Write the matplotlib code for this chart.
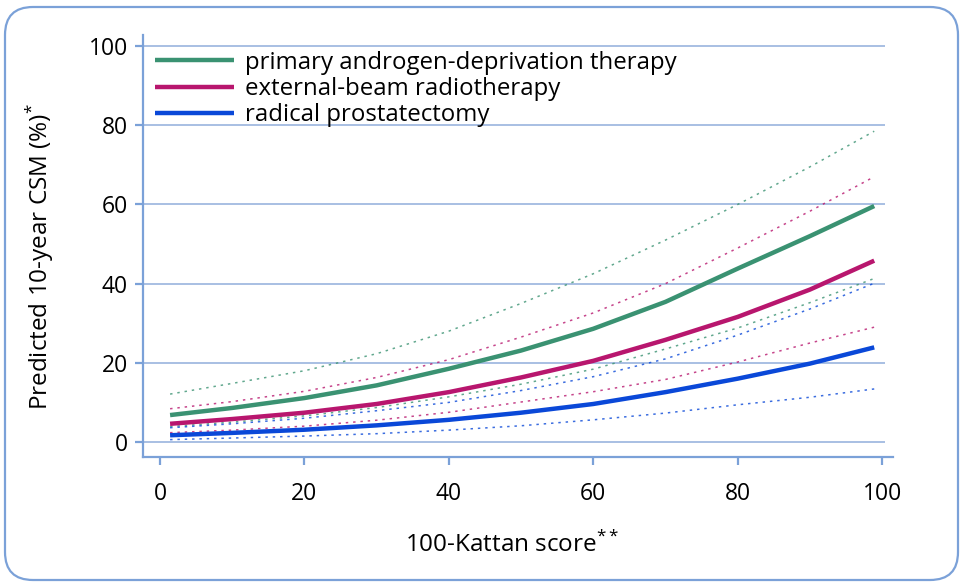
import matplotlib
matplotlib.use("Agg")
import matplotlib.pyplot as plt
from matplotlib.patches import FancyBboxPatch
from matplotlib.transforms import IdentityTransform

plt.rcParams['font.family'] = ['Open Sans', 'DejaVu Sans']
plt.rcParams['mathtext.fontset'] = 'custom'
plt.rcParams['mathtext.rm'] = 'Open Sans'

# 100-Kattan score (x) and predicted 10-year CSM (%)
kattan = [1.4, 10, 20, 30, 40, 50, 60, 70, 80, 90, 98.9]

adt = [6.8, 8.6, 11.1, 14.3, 18.5, 23.1, 28.6, 35.4, 43.8, 52.0, 59.6]
adt_hi = [12.1, 14.8, 18.0, 22.3, 28.0, 35.0, 42.5, 51.0, 60.0, 69.5, 78.5]
adt_lo = [3.9, 5.0, 6.6, 8.7, 11.4, 14.6, 18.4, 23.5, 28.8, 35.2, 41.3]

ebrt = [4.6, 5.8, 7.4, 9.6, 12.6, 16.3, 20.5, 25.8, 31.6, 38.5, 45.8]
ebrt_hi = [8.4, 10.2, 12.8, 16.3, 20.8, 26.5, 32.6, 40.0, 49.0, 58.3, 67.0]
ebrt_lo = [2.35, 3.0, 4.0, 5.5, 7.5, 10.1, 12.7, 15.8, 20.2, 25.0, 29.0]

rp = [1.7, 2.3, 3.1, 4.2, 5.6, 7.4, 9.6, 12.6, 16.0, 19.8, 23.9]
rp_hi = [3.6, 4.6, 6.0, 7.9, 10.0, 13.0, 16.5, 21.0, 27.0, 33.6, 40.1]
rp_lo = [0.6, 1.0, 1.5, 2.1, 3.0, 4.1, 5.6, 7.3, 9.4, 11.3, 13.4]

labels = ["primary androgen-deprivation therapy",
          "external-beam radiotherapy",
          "radical prostatectomy"]
yticks = [0, 20, 40, 60, 80, 100]
xticks = [0, 20, 40, 60, 80, 100]

green = "#3a9272"
magenta = "#b8166e"
blue = "#0a48d8"
frame_col = "#7ba1d8"
grid_col = "#9ab4de"

fig = plt.figure(figsize=(9.64, 5.82), dpi=100)

# rounded outer frame (pixel coordinates)
box = FancyBboxPatch((5, 2), 953, 573, boxstyle="round,pad=0,rounding_size=28",
                     transform=IdentityTransform(), facecolor="none",
                     edgecolor=frame_col, linewidth=1.6, zorder=0)
fig.patches.append(box)

ax = fig.add_axes([143 / 964, 1 - 457 / 582, 750 / 964, 422 / 582])
ax.set_facecolor("none")
ax.set_xlim(-2.35, 101.5)
ax.set_ylim(-3.79, 102.8)

ax.hlines(yticks, -2.35, 100.4, color=grid_col, linewidth=1.2, zorder=1)

dot = (0, (1.6, 3.2))
for hi, lo, col in [(adt_hi, adt_lo, green), (ebrt_hi, ebrt_lo, magenta), (rp_hi, rp_lo, blue)]:
    ax.plot(kattan, hi, color=col, linestyle=dot, linewidth=1.1, alpha=0.8, zorder=2)
    ax.plot(kattan, lo, color=col, linestyle=dot, linewidth=1.1, alpha=0.8, zorder=2)

for ys, col, lab in [(adt, green, labels[0]), (ebrt, magenta, labels[1]), (rp, blue, labels[2])]:
    ax.plot(kattan, ys, color=col, linewidth=3.2, label=lab, zorder=3,
            solid_capstyle="butt", solid_joinstyle="round")

for s in ["top", "right"]:
    ax.spines[s].set_visible(False)
for s in ["left", "bottom"]:
    ax.spines[s].set_color(frame_col)
    ax.spines[s].set_linewidth(1.6)

ax.set_xticks(xticks)
ax.set_yticks(yticks)
ax.tick_params(axis="both", colors=frame_col, labelcolor="black", labelsize=16.5,
               length=6, width=1.6, direction="out")
ax.tick_params(axis="x", pad=12)
ax.tick_params(axis="y", pad=5)

leg = ax.legend(loc="upper left", bbox_to_anchor=(-0.003, 0.997), frameon=False,
                fontsize=17.3, handlelength=3.3, handletextpad=0.45,
                labelspacing=0.1, borderaxespad=0.2)

fig.text(40 / 964, 1 - 257 / 582, "Predicted 10-year CSM (%)$^{*}$", rotation=90,
         ha="center", va="center", fontsize=17.5)
fig.text(512 / 964, 1 - 545 / 582, "100-Kattan score$^{**}$",
         ha="center", va="center", fontsize=17.5)

fig.savefig("out.png", dpi=100)
